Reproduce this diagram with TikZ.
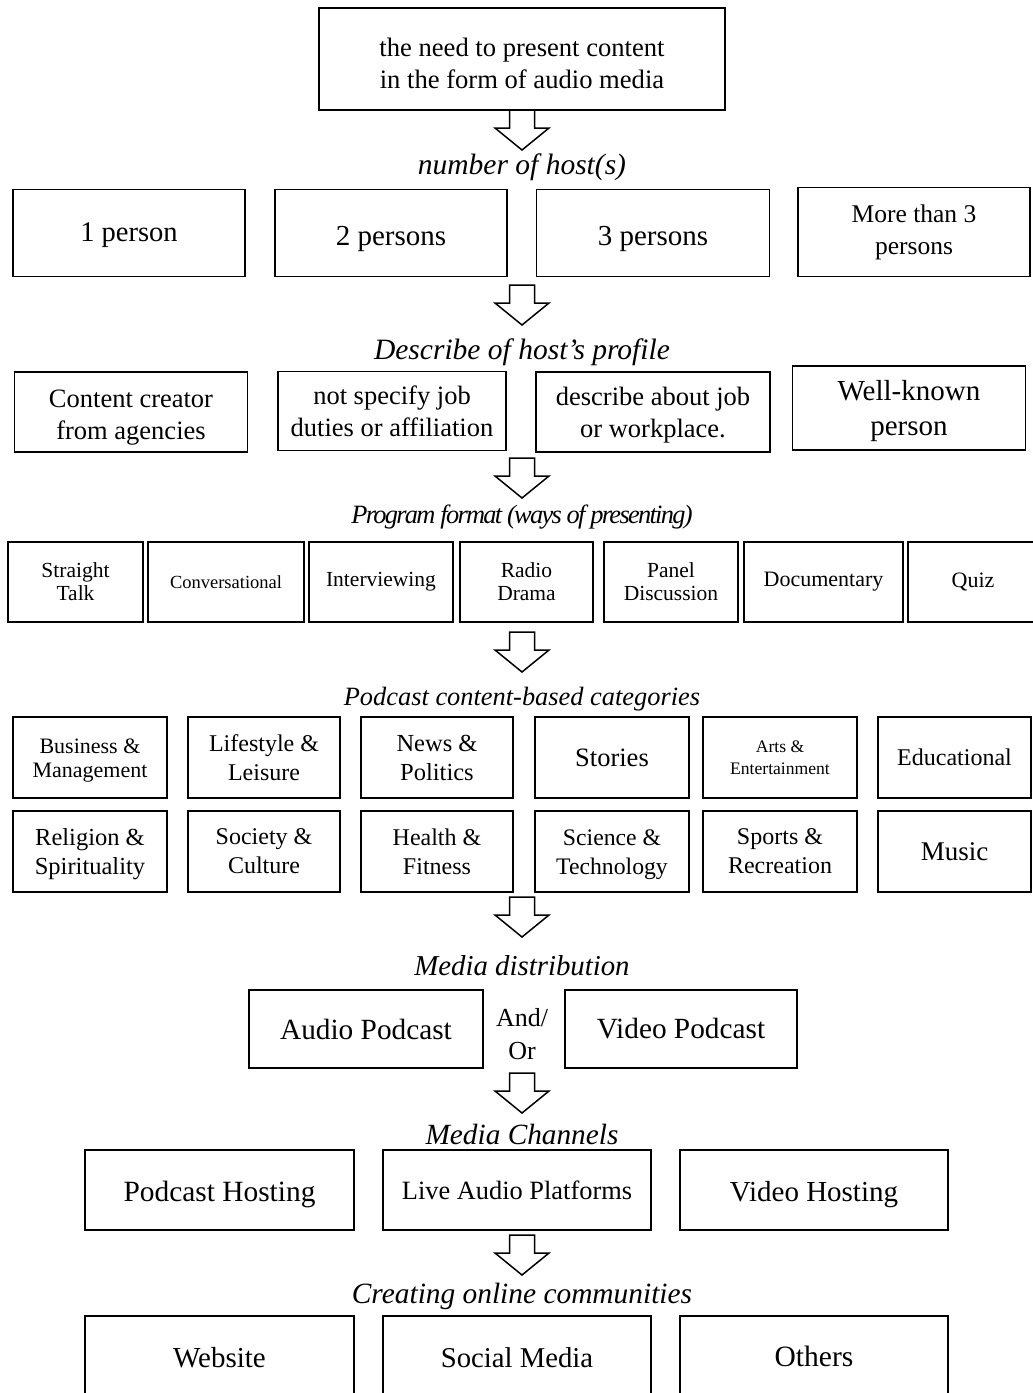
\documentclass[tikz,border=0pt]{standalone}
\usepackage{fontspec}
\setmainfont{Liberation Serif}
\usepackage{tikz}
\usetikzlibrary{positioning}

% move box text down without changing the box
\newcommand{\shiftdown}[2]{\raisebox{-#1pt}[\height][\depth]{\begin{tabular}{@{}c@{}}#2\end{tabular}}}

\begin{document}
\begin{tikzpicture}[x=1pt,y=-1pt,
	boxnode/.style 2 args={draw,line width=1.5pt,align=center,inner sep=2pt,minimum width=#1pt,minimum height=#2pt},
	headnode/.style={font=\itshape\fontsize{#1}{#1}\selectfont,inner sep=0pt},
	headnode/.default=29.5,
	blockarrow/.style={draw,line width=1.5pt,line join=miter,fill=white}]
	\useasboundingbox (0,0) rectangle (1033,1393);
	
	% start
	\node [boxnode={406}{102},font=\fontsize{26.6}{32}\selectfont] (need) at (522, 59) {\shiftdown{7}{the need to present content\\in the form of audio media}};
	\node [headnode] (hosts) at (522, 167) {number of host(s)};
	
	% hosts
	\node [boxnode={232}{87},font=\fontsize{28.5}{32}\selectfont] (h1) at (129, 233) {\shiftdown{2}{1 person}};
	\node [boxnode={232}{87},font=\fontsize{29}{32}\selectfont] (h2) at (391, 233) {\shiftdown{6}{2 persons}};
	\node [boxnode={233}{87},font=\fontsize{29}{32}\selectfont] (h3) at (653, 233) {\shiftdown{6}{3 persons}};
	\node [boxnode={232}{89},font=\fontsize{25.5}{32}\selectfont] (h4) at (914, 232) {More than 3\\persons};
	\node [headnode] (profile) at (522, 352) {Describe of host's profile};
	
	% profile
	\node [boxnode={233}{80},font=\fontsize{26.5}{32}\selectfont] (p1) at (131, 412) {\shiftdown{5}{Content creator\\from agencies}};
	\node [boxnode={228}{79},font=\fontsize{26.5}{32}\selectfont] (p2) at (392, 411) {not specify job\\duties or affiliation};
	\node [boxnode={234}{80},font=\fontsize{26.5}{32}\selectfont] (p3) at (653, 412) {\shiftdown{3}{describe about job\\or workplace.}};
	\node [boxnode={233}{84},font=\fontsize{29}{35}\selectfont] (p4) at (909, 408) {\shiftdown{3}{Well-known\\person}};
	\node [inner sep=0pt,font={\itshape\fontsize{26.4}{26.4}\selectfont\addfontfeature{LetterSpace=-6.5}}] (format) at (522, 517) {Program format (ways of presenting)};
	
	% formats
	\node [boxnode={135}{80},font=\fontsize{21.5}{23}\selectfont] (f1) at (75.5, 582) {Straight\\Talk};
	\node [boxnode={156}{80},font=\fontsize{18.5}{23}\selectfont] (f2) at (226, 582) {Conversational};
	\node [boxnode={144}{80},font=\fontsize{21.5}{23}\selectfont] (f3) at (381, 582) {Interviewing};
	\node [boxnode={133}{80},font=\fontsize{21.5}{23}\selectfont] (f4) at (526.5, 582) {Radio\\Drama};
	\node [boxnode={134}{80},font=\fontsize{21.5}{23}\selectfont] (f5) at (671, 582) {Panel\\Discussion};
	\node [boxnode={159}{80},font=\fontsize{22}{23}\selectfont] (f6) at (823.5, 582) {Documentary};
	\node [boxnode={130}{80},font=\fontsize{22}{23}\selectfont] (f7) at (973, 582) {Quiz};
	\node [headnode=26.4] (cats) at (522, 699) {Podcast content-based categories};
	
	% categories
	\node [boxnode={154}{81},font=\fontsize{22}{24}\selectfont] (c1) at (90, 757.5) {\shiftdown{3}{Business \&\\Management}};
	\node [boxnode={152}{81},font=\fontsize{24}{29}\selectfont] (c2) at (264, 757.5) {Lifestyle \&\\Leisure};
	\node [boxnode={152}{81},font=\fontsize{24.5}{29}\selectfont] (c3) at (437, 757.5) {News \&\\Politics};
	\node [boxnode={154}{81},font=\fontsize{26.5}{29}\selectfont] (c4) at (612, 757.5) {Stories};
	\node [boxnode={154}{81},font=\fontsize{17.6}{22}\selectfont] (c5) at (780, 757.5) {Arts \&\\Entertainment};
	\node [boxnode={153}{81},font=\fontsize{24}{29}\selectfont] (c6) at (954.5, 757.5) {Educational};
	\node [boxnode={154}{81},font=\fontsize{24.5}{29}\selectfont] (c7) at (90, 851.5) {\shiftdown{3}{Religion \&\\Spirituality}};
	\node [boxnode={152}{81},font=\fontsize{24}{29}\selectfont] (c8) at (264, 851.5) {Society \&\\Culture};
	\node [boxnode={152}{81},font=\fontsize{24}{29}\selectfont] (c9) at (437, 851.5) {Health \&\\Fitness};
	\node [boxnode={154}{81},font=\fontsize{23.7}{29}\selectfont] (c10) at (612, 851.5) {\shiftdown{3}{Science \&\\Technology}};
	\node [boxnode={154}{81},font=\fontsize{24}{29}\selectfont] (c11) at (780, 851.5) {Sports \&\\Recreation};
	\node [boxnode={153}{81},font=\fontsize{27}{29}\selectfont] (c12) at (954.5, 851.5) {Music};
	\node [headnode=28.8] (dist) at (522, 966) {Media distribution};
	
	% distribution
	\node [boxnode={234}{78},font=\fontsize{29.3}{32}\selectfont] (audio) at (366, 1029) {Audio Podcast};
	\node [boxnode={232}{78},font=\fontsize{29.3}{32}\selectfont] (video) at (681, 1029) {Video Podcast};
	\node [font=\fontsize{26}{33}\selectfont,align=center,inner sep=0pt] (andor) at (522, 1034) {And/\\Or};
	\node [headnode=29.3] (chan) at (522, 1134) {Media Channels};
	
	% channels
	\node [boxnode={269}{80},font=\fontsize{29.4}{32}\selectfont] (ch1) at (219.5, 1190) {\shiftdown{5}{Podcast Hosting}};
	\node [boxnode={268}{80},font=\fontsize{26.4}{32}\selectfont] (ch2) at (517, 1190) {\shiftdown{3}{Live Audio Platforms}};
	\node [boxnode={268}{80},font=\fontsize{29}{32}\selectfont] (ch3) at (814, 1190) {\shiftdown{5}{Video Hosting}};
	\node [headnode=29.4] (comm) at (522, 1296) {Creating online communities};
	
	% communities
	\node [boxnode={269}{80},font=\fontsize{29}{32}\selectfont] (m1) at (219.5, 1356) {\shiftdown{5}{Website}};
	\node [boxnode={268}{80},font=\fontsize{28.7}{32}\selectfont] (m2) at (517, 1356) {\shiftdown{5}{Social Media}};
	\node [boxnode={268}{80},font=\fontsize{29.5}{32}\selectfont] (m3) at (814, 1356) {\shiftdown{4}{Others}};
	
	% block arrows
	\coordinate (a1) at (522, 110);
	\coordinate (a2) at (522, 285);
	\coordinate (a3) at (522, 458);
	\coordinate (a4) at (522, 632);
	\coordinate (a5) at (522, 897);
	\coordinate (a6) at (522, 1073);
	\coordinate (a7) at (522, 1235);
	\foreach \a in {a1,a2,a3,a4,a5,a6,a7}
		\draw [blockarrow] (\a) -- ++(12.5,0) -- ++(0,18) -- ++(14.5,0) -- ++(-27,22) -- ++(-27,-22) -- ++(14.5,0) -- ++(0,-18) -- cycle;
\end{tikzpicture}
\end{document}
